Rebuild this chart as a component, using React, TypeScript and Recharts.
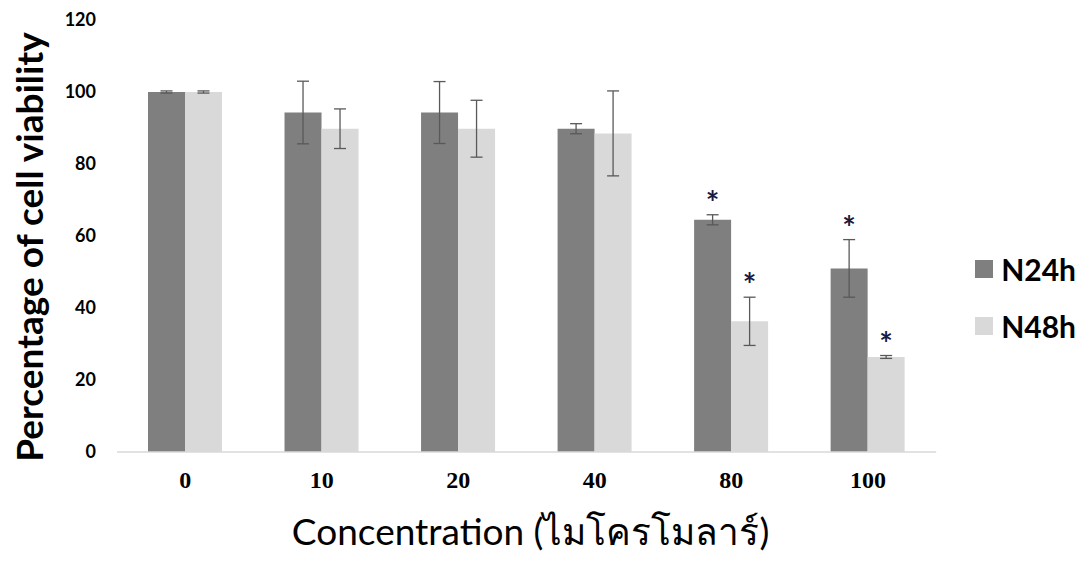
import { BarChart, Bar, XAxis, YAxis, ErrorBar, Legend, LabelList, Label } from 'recharts';

const concentrations = ['0', '10', '20', '40', '80', '100'];
const n24 = [100, 94.3, 94.3, 89.8, 64.5, 51];
const n24Err = [0.3, 8.7, 8.6, 1.4, 1.4, 8];
const n24Sig = [false, false, false, false, true, true];
const n48 = [100, 89.8, 89.8, 88.5, 36.3, 26.4];
const n48Err = [0.3, 5.5, 7.9, 11.8, 6.7, 0.4];
const n48Sig = [false, false, false, false, true, true];
const yTicks = [0, 20, 40, 60, 80, 100, 120];

const data = concentrations.map((c, i) => ({
  conc: c,
  N24h: n24[i],
  N24hErr: n24Err[i],
  N48h: n48[i],
  N48hErr: n48Err[i],
}));

// significance marks sit just above the error bar cap
const makeStar = (errs: number[], sig: boolean[]) => (props: any) => {
  const { x, y, width, height, value, index } = props;
  if (!sig[index]) return null;
  const errPx = (height / value) * errs[index];
  return (
    <text x={x + width / 2} y={y - errPx} textAnchor="middle" fontSize={32} fontFamily="Lato" fontWeight={700} fill="#1a1a40">
      *
    </text>
  );
};

const renderLegend = (props: any) => (
  <div style={{ fontFamily: 'Lato', fontWeight: 700, fontSize: 30, color: '#000' }}>
    {props.payload.map((p: any) => (
      <div key={p.value} style={{ display: 'flex', alignItems: 'center', height: 57 }}>
        <span style={{ width: 18, height: 18, background: p.color, marginRight: 8, display: 'inline-block' }} />
        {p.value}
      </div>
    ))}
  </div>
);

export default function App() {
  return (
    <div style={{ position: 'absolute', left: 0, top: 0, background: '#fff' }}>
      <BarChart width={1086} height={562} data={data} margin={{ top: 20, right: 49, left: 0, bottom: 80 }} barSize={37} barGap={0}>
        <XAxis dataKey="conc" tickLine={false} tickMargin={13} axisLine={{ stroke: '#d9d9d9', strokeWidth: 1.5 }}
          tick={{ fill: '#000', fontFamily: 'Liberation Serif', fontWeight: 700, fontSize: 24 }}>
          <Label content={(p: any) => (
            <text x={p.viewBox.x + p.viewBox.width / 2 + 4} y={545} textAnchor="middle" fontFamily="Lato" fontSize={37} fill="#000">
              Concentration (ไมโครโมลาร์)
            </text>
          )} />
        </XAxis>
        <YAxis width={117} domain={[0, 120]} ticks={yTicks} tickLine={false} axisLine={false} dx={-13}
          tick={{ fill: '#000', fontFamily: 'Lato', fontWeight: 700, fontSize: 18 }}>
          <Label content={(p: any) => (
            <text x={0} y={0} transform={`translate(43, ${p.viewBox.y + p.viewBox.height / 2 + 11}) rotate(-90)`}
              textAnchor="middle" fontFamily="Lato" fontWeight={700} fontSize={37} fill="#000">
              Percentage of cell viability
            </text>
          )} />
        </YAxis>
        <Legend layout="vertical" align="right" verticalAlign="middle" content={renderLegend}
          wrapperStyle={{ right: 10, top: 240 }} />
        <Bar dataKey="N24h" fill="#7f7f7f" isAnimationActive={false}>
          <ErrorBar dataKey="N24hErr" width={6} stroke="#595959" strokeWidth={1.3} />
          <LabelList dataKey="N24h" content={makeStar(n24Err, n24Sig)} />
        </Bar>
        <Bar dataKey="N48h" fill="#d9d9d9" isAnimationActive={false}>
          <ErrorBar dataKey="N48hErr" width={6} stroke="#595959" strokeWidth={1.3} />
          <LabelList dataKey="N48h" content={makeStar(n48Err, n48Sig)} />
        </Bar>
      </BarChart>
    </div>
  );
}
